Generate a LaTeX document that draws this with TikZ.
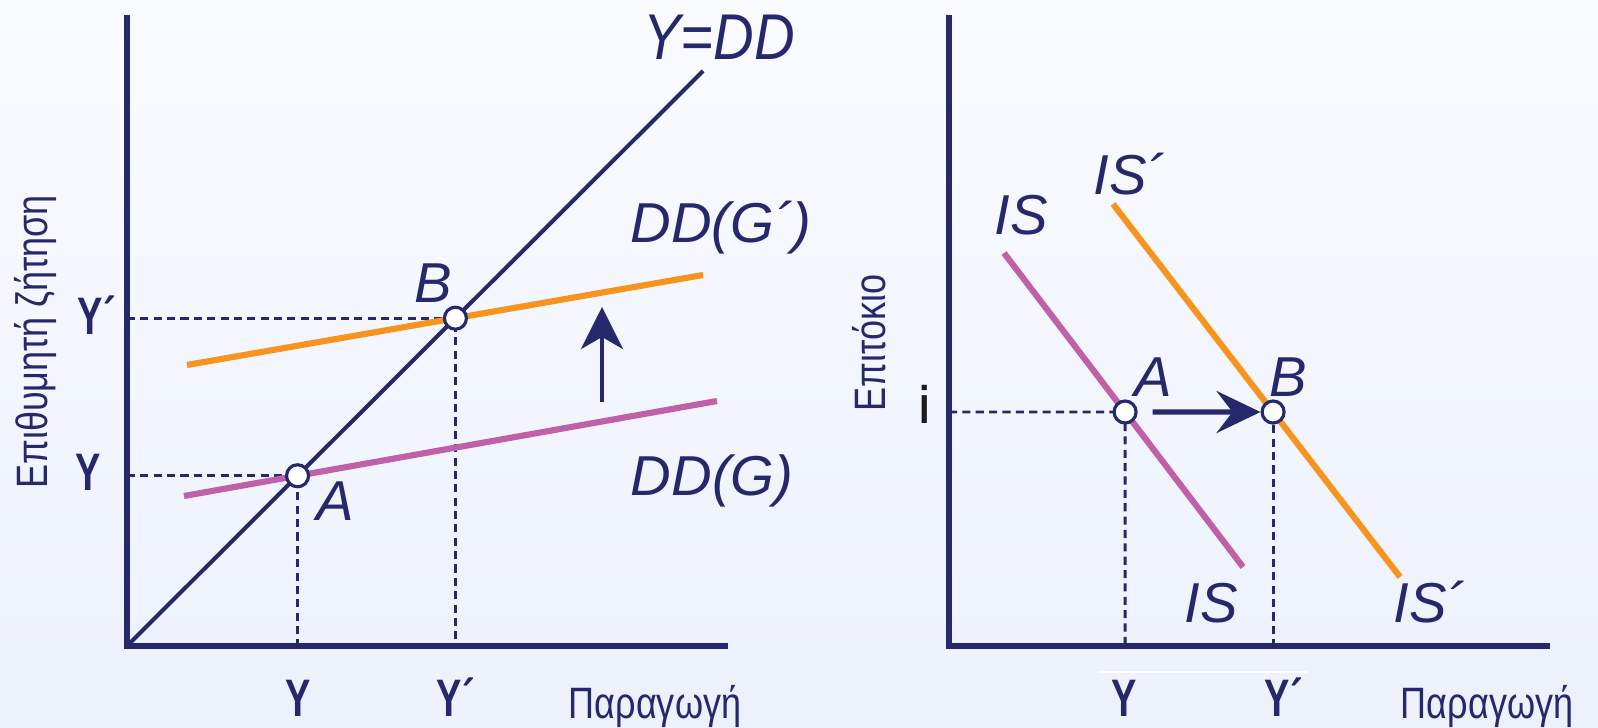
\documentclass[tikz,border=0pt]{standalone}
\usepackage{fontspec}
\usepackage{graphicx}
\setmainfont{Liberation Sans}
\newfontfamily\axfont[FakeStretch=0.82]{Liberation Sans}
\newfontfamily\tkfont[FakeStretch=0.72]{Liberation Sans}
\usetikzlibrary{arrows.meta}
\definecolor{navy}{RGB}{38,40,108}
\definecolor{curveO}{RGB}{247,148,29}
\definecolor{curveM}{RGB}{192,96,168}
\definecolor{bgtop}{RGB}{249,251,255}
\definecolor{bgbot}{RGB}{237,241,252}
\definecolor{ink}{RGB}{28,26,28}
\begin{document}
\begin{tikzpicture}[x=0.01cm,y=0.01cm,
  axisline/.style={navy,line width=1.5pt,line join=miter},
  ddline/.style={navy,line width=1.15pt},
  oraline/.style={curveO,line width=1.75pt},
  magline/.style={curveM,line width=1.75pt},
  guide/.style={navy,line width=0.8pt,dash pattern=on 2.3pt off 1.5pt},
  ptnode/.style={circle,draw=navy,fill=white,line width=0.9pt,minimum size=0.22cm,inner sep=0pt},
  lbl/.style={text=navy,font=\fontsize{16pt}{19pt}\selectfont\itshape,inner sep=0pt,anchor=base},
  tick/.style={text=navy,font=\tkfont\bfseries\fontsize{15pt}{17pt}\selectfont,inner sep=0pt,anchor=base},
  axlab/.style={text=navy,font=\axfont\fontsize{12.5pt}{15pt}\selectfont,inner sep=0pt,anchor=base},
  uparrow/.style={navy,line width=1.15pt,-{Stealth[length=0.42cm,width=0.42cm,inset=0.12cm]}},
  bigarrow/.style={navy,line width=1.5pt,-{Stealth[length=0.44cm,width=0.42cm,inset=0.16cm]}},
]
% background
\shade[top color=bgtop,bottom color=bgbot] (0,0) rectangle (1598,-728);
\useasboundingbox (0,0) rectangle (1598,-728);

% ---------------- left panel ----------------
\coordinate (O1) at (127,-646);
\coordinate (T1) at (127,-15);
\coordinate (R1) at (728,-646);
\coordinate (DDe) at (703,-71);
\coordinate (Gs) at (184,-496);
\coordinate (Ge) at (717,-401);
\coordinate (Hs) at (187,-365);
\coordinate (He) at (703,-275);
\path (intersection of O1--DDe and Gs--Ge) coordinate (Apos);
\path (intersection of O1--DDe and Hs--He) coordinate (Bpos);

\draw[guide] (O1 |- Apos) -- (Apos) -- (Apos |- O1);
\draw[guide] (O1 |- Bpos) -- (Bpos) -- (Bpos |- O1);

\draw[magline] (Gs) -- (Ge);
\draw[oraline] (Hs) -- (He);
\draw[ddline] (O1) -- (DDe);
\draw[axisline] (T1) -- (O1) -- (R1);

\node[ptnode] (A1) at (Apos) {};
\node[ptnode] (B1) at (Bpos) {};

\coordinate (u1) at (602,-402);
\coordinate (u2) at (602,-307);
\draw[uparrow] (u1) -- (u2);

\node[lbl] (lYDD) at (719,-60) {\scalebox{1}[1.15]{Y=DD}};
\node[lbl] (lDDG1) at (721,-243) {DD(G´)};
\node[lbl] (lDDG) at (712,-495) {DD(G)};
\node[lbl] (lB1) at (433,-303) {B};
\node[lbl] (lA1) at (335,-520) {A};

\node[tick,anchor=base west] (tY1p) at (77,-335) {Y´};
\node[tick,anchor=base west] (tY1) at (75,-490) {Y};
\node[tick] (bY1) at (298,-716) {Y};
\node[tick,anchor=base west] (bY1p) at (436,-716) {Y´};
\node[axlab] (xl1) at (655,-718) {Παραγωγή};
\node[axlab,rotate=90] (yl1) at (47,-342) {Επιθυμητή ζήτηση};

% ---------------- right panel ----------------
\coordinate (O2) at (949,-646);
\coordinate (T2) at (949,-15);
\coordinate (R2) at (1550,-646);
\coordinate (Is) at (1004,-253);
\coordinate (Ie) at (1243,-567);
\coordinate (Js) at (1113,-204);
\coordinate (Je) at (1400,-577);
\coordinate (iL) at (949,-412);
\coordinate (iR) at (1598,-412);
\path (intersection of Is--Ie and iL--iR) coordinate (A2pos);
\path (intersection of Js--Je and iL--iR) coordinate (B2pos);

\draw[guide] (iL) -- (A2pos) -- (A2pos |- O2);
\draw[guide] (B2pos) -- (B2pos |- O2);

\draw[magline] (Is) -- (Ie);
\draw[oraline] (Js) -- (Je);
\draw[axisline] (T2) -- (O2) -- (R2);

\node[ptnode] (A2) at (A2pos) {};
\node[ptnode] (B2) at (B2pos) {};
\draw[bigarrow,shorten <=0.15cm] (A2) -- (B2);

\coordinate (w1) at (1098,-672);
\coordinate (w2) at (1307,-672);
\draw[white,line width=0.6pt] (w1) -- (w2);

\node[lbl] (lIS) at (1021,-235) {IS};
\node[lbl,anchor=base west] (lISp) at (1093,-195) {IS´};
\node[lbl] (lA2) at (1153,-397) {A};
\node[lbl] (lB2) at (1288,-397) {B};
\node[lbl] (lISb) at (1211,-622) {IS};
\node[lbl,anchor=base west] (lISpb) at (1393,-622) {IS´};
\node[tick,text=ink] (ti) at (925,-423) {i};

\node[tick] (bY2) at (1124,-716) {Y};
\node[tick,anchor=base west] (bY2p) at (1264,-716) {Y´};
\node[axlab] (xl2) at (1487,-718) {Παραγωγή};
\node[axlab,rotate=90] (yl2) at (885,-343) {Επιτόκιο};
\end{tikzpicture}
\end{document}
